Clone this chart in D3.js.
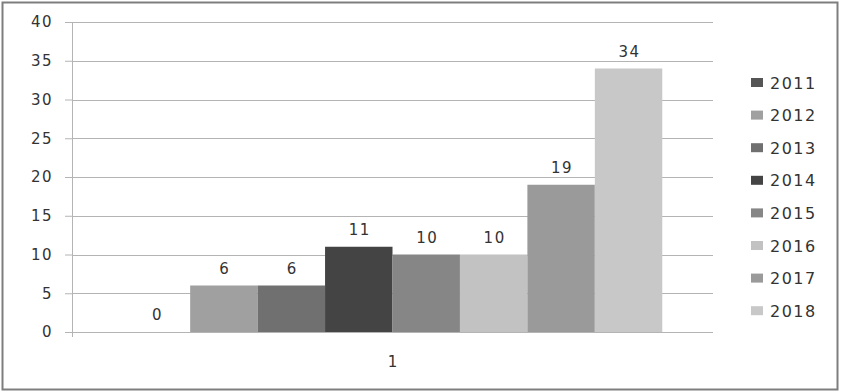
<!DOCTYPE html>
<html>
<head>
<meta charset="utf-8">
<script src="https://cdn.jsdelivr.net/npm/d3@7"></script>
<style>
  body { margin: 0; background: #fff; }
  svg { display: block; font-family: "DejaVu Sans", Verdana, sans-serif; }
</style>
</head>
<body>
<div id="chart"></div>
<script>
// data
var categories = ["1"];
var years = ["2011", "2012", "2013", "2014", "2015", "2016", "2017", "2018"];
var values = [0, 6, 6, 11, 10, 10, 19, 34];
var yTicks = [0, 5, 10, 15, 20, 25, 30, 35, 40];
var barColors = ["#555555", "#a0a0a0", "#707070", "#444444", "#868686", "#c2c2c2", "#9a9a9a", "#c8c8c8"];

var W = 841, H = 392;
var plot = {left: 72, right: 713, top: 22, bottom: 332};

var svg = d3.select("#chart")
  .append("svg")
  .attr("width", W)
  .attr("height", H);

// outer frame
svg.append("rect")
  .attr("x", 2.5).attr("y", 2.5)
  .attr("width", 835).attr("height", 387)
  .attr("fill", "#fff")
  .attr("stroke", "#7e7e7e")
  .attr("stroke-width", 2);

var y = d3.scaleLinear()
  .domain([0, 40])
  .range([plot.bottom, plot.top]);

var x0 = d3.scaleBand()
  .domain(categories)
  .range([plot.left, plot.right])
  .paddingInner(0)
  .paddingOuter(0.094);

var x1 = d3.scaleBand()
  .domain(years)
  .range([0, x0.bandwidth()]);

var color = d3.scaleOrdinal().domain(years).range(barColors);

// y axis labels + tick stubs
var yAxis = svg.append("g")
  .attr("transform", "translate(" + plot.left + ",0)")
  .call(d3.axisLeft(y).tickValues(yTicks).tickSize(7).tickPadding(12));
yAxis.select(".domain").remove();
yAxis.selectAll("line").attr("stroke", "#b4b4b4");
yAxis.selectAll("text")
  .attr("fill", "#333")
  .style("font-size", "15px")
  .style("letter-spacing", "1.5px")
  .style("font-family", "DejaVu Sans, sans-serif");

// grid lines
svg.append("g")
  .selectAll("line")
  .data(yTicks)
  .enter().append("line")
  .attr("x1", plot.left).attr("x2", plot.right)
  .attr("y1", function(d) { return Math.round(y(d)) + 0.5; })
  .attr("y2", function(d) { return Math.round(y(d)) + 0.5; })
  .attr("stroke", "#b4b4b4");

// vertical axis line
svg.append("line")
  .attr("x1", plot.left + 0.5).attr("x2", plot.left + 0.5)
  .attr("y1", plot.top).attr("y2", plot.bottom + 5)
  .attr("stroke", "#b4b4b4");

var barData = years.map(function(yr, i) { return {year: yr, value: values[i]}; });

// bars
var group = svg.append("g")
  .selectAll("g")
  .data(categories)
  .enter().append("g")
  .attr("transform", function(d) { return "translate(" + x0(d) + ",0)"; });

group.selectAll("rect")
  .data(barData)
  .enter().append("rect")
  .attr("x", function(d) { return x1(d.year); })
  .attr("y", function(d) { return y(d.value); })
  .attr("width", x1.bandwidth())
  .attr("height", function(d) { return y(0) - y(d.value); })
  .attr("fill", function(d) { return color(d.year); });

// value labels
group.selectAll("text")
  .data(barData)
  .enter().append("text")
  .attr("x", function(d) { return x1(d.year) + x1.bandwidth() / 2 + 1; })
  .attr("y", function(d) { return y(d.value) - 12; })
  .attr("text-anchor", "middle")
  .attr("fill", "#333")
  .style("font-size", "15px")
  .style("letter-spacing", "1.5px")
  .text(function(d) { return d.value; });

// x axis (category label only)
var xAxis = svg.append("g")
  .attr("transform", "translate(0," + plot.bottom + ")")
  .call(d3.axisBottom(x0).tickSize(0).tickPadding(24));
xAxis.select(".domain").remove();
xAxis.selectAll("text")
  .attr("fill", "#333")
  .style("font-size", "15px")
  .style("font-family", "DejaVu Sans, sans-serif");

// legend
var legendTop = 82, legendStep = 32.6;
var legend = svg.selectAll(".legend")
  .data(years)
  .enter().append("g")
  .attr("class", "legend")
  .attr("transform", function(d, i) { return "translate(751," + (legendTop + i * legendStep) + ")"; });
legend.append("rect")
  .attr("x", 0).attr("y", -4)
  .attr("width", 12).attr("height", 9)
  .attr("fill", function(d) { return color(d); });
legend.append("text")
  .attr("x", 19).attr("y", 1)
  .attr("dy", "0.35em")
  .attr("fill", "#333")
  .style("font-size", "16px")
  .style("letter-spacing", "1.5px")
  .text(function(d) { return d; });
</script>
</body>
</html>
